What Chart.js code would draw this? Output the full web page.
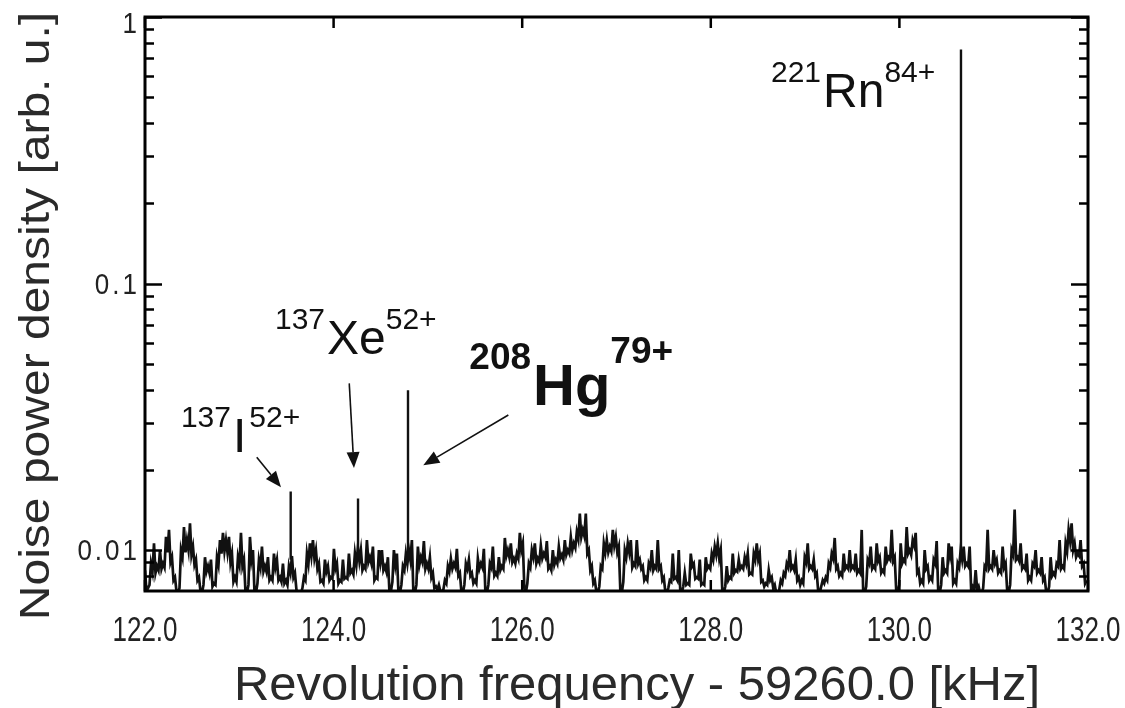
<!DOCTYPE html>
<html>
<head>
<meta charset="utf-8">
<script src="https://cdn.jsdelivr.net/npm/chart.js@4.4.1/dist/chart.umd.min.js"></script>
<style>
  html, body { margin: 0; padding: 0; background: #fff; }
  canvas { display: block; }
</style>
</head>
<body>
<canvas id="spectrum" width="1125" height="708"></canvas>
<script>
// Axis ticks
const xTickValues = [122, 124, 126, 128, 130, 132];
const yTickValues = [0.01, 0.1, 1];
const yMinorTickValues = [0.008, 0.009, 0.02, 0.03, 0.04, 0.05, 0.06, 0.07, 0.08, 0.09,
                          0.2, 0.3, 0.4, 0.5, 0.6, 0.7, 0.8, 0.9];

// Noise floor of the Schottky spectrum. Bins are 0.0159 kHz apart starting at 122.0 kHz;
// even bins hold the crests of the trace, odd bins the troughs between them.
const binStart = 122.0;
const binStep = 0.0159;
const noiseCrest = [
  0.0084, 0.0072, 0.0089, 0.0106, 0.0087, 0.0100, 0.0089, 0.0112, 0.0119, 0.0094,
  0.0079, 0.0069, 0.0100, 0.0122, 0.0109, 0.0126, 0.0103, 0.0092, 0.0079, 0.0069,
  0.0094, 0.0087, 0.0092, 0.0075, 0.0094, 0.0109, 0.0116, 0.0109, 0.0112, 0.0097,
  0.0079, 0.0094, 0.0116, 0.0092, 0.0069, 0.0112, 0.0100, 0.0069, 0.0092, 0.0103,
  0.0087, 0.0094, 0.0079, 0.0097, 0.0092, 0.0079, 0.0089, 0.0077, 0.0087, 0.0095,
  0.0082, 0.0069, 0.0069, 0.0079, 0.0097, 0.0106, 0.0109, 0.0100, 0.0089, 0.0077,
  0.0092, 0.0087, 0.0079, 0.0101, 0.0089, 0.0077, 0.0092, 0.0079, 0.0097, 0.0084,
  0.0097, 0.0102, 0.0100, 0.0087, 0.0109, 0.0094, 0.0103, 0.0079, 0.0100, 0.0100,
  0.0087, 0.0094, 0.0070, 0.0100, 0.0097, 0.0069, 0.0087, 0.0097, 0.0100, 0.0109,
  0.0069, 0.0103, 0.0094, 0.0108, 0.0089, 0.0094, 0.0082, 0.0073, 0.0074, 0.0070,
  0.0077, 0.0087, 0.0093, 0.0089, 0.0101, 0.0082, 0.0069, 0.0089, 0.0092, 0.0082,
  0.0077, 0.0093, 0.0089, 0.0101, 0.0069, 0.0089, 0.0103, 0.0082, 0.0094, 0.0087,
  0.0111, 0.0100, 0.0106, 0.0093, 0.0097, 0.0116, 0.0106, 0.0069, 0.0089, 0.0100,
  0.0106, 0.0093, 0.0104, 0.0097, 0.0108, 0.0087, 0.0100, 0.0092, 0.0103, 0.0096,
  0.0109, 0.0100, 0.0112, 0.0106, 0.0117, 0.0137, 0.0119, 0.0137, 0.0100, 0.0087,
  0.0077, 0.0069, 0.0087, 0.0106, 0.0109, 0.0103, 0.0119, 0.0112, 0.0103, 0.0069,
  0.0100, 0.0106, 0.0109, 0.0089, 0.0109, 0.0092, 0.0087, 0.0079, 0.0089, 0.0100,
  0.0087, 0.0109, 0.0087, 0.0079, 0.0069, 0.0077, 0.0097, 0.0079, 0.0100, 0.0069,
  0.0082, 0.0075, 0.0097, 0.0089, 0.0079, 0.0092, 0.0075, 0.0094, 0.0087, 0.0097,
  0.0103, 0.0106, 0.0100, 0.0069, 0.0087, 0.0079, 0.0097, 0.0084, 0.0092, 0.0087,
  0.0094, 0.0097, 0.0082, 0.0097, 0.0106, 0.0097, 0.0077, 0.0075, 0.0084, 0.0079,
  0.0074, 0.0069, 0.0077, 0.0082, 0.0089, 0.0100, 0.0087, 0.0092, 0.0079, 0.0077,
  0.0094, 0.0106, 0.0087, 0.0092, 0.0082, 0.0069, 0.0077, 0.0079, 0.0089, 0.0097,
  0.0111, 0.0087, 0.0082, 0.0097, 0.0087, 0.0100, 0.0087, 0.0097, 0.0084, 0.0119,
  0.0069, 0.0092, 0.0103, 0.0087, 0.0106, 0.0094, 0.0084, 0.0103, 0.0094, 0.0119,
  0.0094, 0.0069, 0.0106, 0.0092, 0.0122, 0.0100, 0.0109, 0.0116, 0.0084, 0.0077,
  0.0100, 0.0087, 0.0079, 0.0092, 0.0108, 0.0069, 0.0094, 0.0084, 0.0106, 0.0103,
  0.0077, 0.0089, 0.0100, 0.0103, 0.0089, 0.0103, 0.0073, 0.0084, 0.0073, 0.0069,
  0.0087, 0.0119, 0.0087, 0.0100, 0.0092, 0.0084, 0.0103, 0.0089, 0.0069, 0.0100,
  0.0142, 0.0094, 0.0106, 0.0087, 0.0097, 0.0079, 0.0089, 0.0100, 0.0084, 0.0094,
  0.0079, 0.0069, 0.0094, 0.0082, 0.0089, 0.0109, 0.0087, 0.0106, 0.0119, 0.0126,
  0.0106, 0.0097, 0.0109, 0.0089, 0.0077
];
const noiseTrough = [
  0.0070, 0.0074, 0.0083, 0.0082, 0.0084, 0.0085, 0.0086, 0.0098, 0.0090, 0.0077,
  0.0070, 0.0072, 0.0094, 0.0098, 0.0100, 0.0096, 0.0088, 0.0077, 0.0070, 0.0074,
  0.0083, 0.0082, 0.0073, 0.0074, 0.0088, 0.0097, 0.0099, 0.0098, 0.0090, 0.0076,
  0.0076, 0.0088, 0.0087, 0.0070, 0.0074, 0.0092, 0.0070, 0.0075, 0.0086, 0.0083,
  0.0083, 0.0077, 0.0077, 0.0086, 0.0077, 0.0076, 0.0075, 0.0074, 0.0082, 0.0079,
  0.0071, 0.0069, 0.0072, 0.0077, 0.0089, 0.0095, 0.0093, 0.0085, 0.0076, 0.0075,
  0.0083, 0.0077, 0.0078, 0.0085, 0.0075, 0.0076, 0.0078, 0.0078, 0.0082, 0.0081,
  0.0088, 0.0091, 0.0084, 0.0085, 0.0090, 0.0089, 0.0077, 0.0078, 0.0090, 0.0084,
  0.0083, 0.0070, 0.0076, 0.0088, 0.0070, 0.0074, 0.0084, 0.0089, 0.0092, 0.0069,
  0.0074, 0.0088, 0.0090, 0.0085, 0.0085, 0.0079, 0.0072, 0.0071, 0.0070, 0.0071,
  0.0075, 0.0083, 0.0085, 0.0086, 0.0080, 0.0070, 0.0074, 0.0085, 0.0080, 0.0075,
  0.0075, 0.0085, 0.0086, 0.0070, 0.0074, 0.0086, 0.0080, 0.0080, 0.0084, 0.0085,
  0.0095, 0.0094, 0.0090, 0.0089, 0.0093, 0.0100, 0.0072, 0.0075, 0.0086, 0.0094,
  0.0089, 0.0090, 0.0093, 0.0094, 0.0085, 0.0084, 0.0088, 0.0089, 0.0093, 0.0092,
  0.0096, 0.0097, 0.0100, 0.0102, 0.0110, 0.0112, 0.0113, 0.0097, 0.0084, 0.0075,
  0.0070, 0.0073, 0.0085, 0.0098, 0.0098, 0.0099, 0.0104, 0.0098, 0.0071, 0.0076,
  0.0094, 0.0098, 0.0086, 0.0087, 0.0089, 0.0085, 0.0077, 0.0077, 0.0086, 0.0084,
  0.0085, 0.0085, 0.0077, 0.0070, 0.0072, 0.0076, 0.0078, 0.0077, 0.0070, 0.0073,
  0.0074, 0.0074, 0.0087, 0.0078, 0.0078, 0.0074, 0.0074, 0.0085, 0.0085, 0.0092,
  0.0096, 0.0093, 0.0071, 0.0073, 0.0077, 0.0078, 0.0082, 0.0083, 0.0085, 0.0085,
  0.0089, 0.0081, 0.0081, 0.0092, 0.0092, 0.0076, 0.0073, 0.0074, 0.0077, 0.0072,
  0.0069, 0.0071, 0.0075, 0.0080, 0.0086, 0.0085, 0.0084, 0.0077, 0.0074, 0.0075,
  0.0090, 0.0085, 0.0085, 0.0080, 0.0070, 0.0073, 0.0075, 0.0077, 0.0086, 0.0093,
  0.0085, 0.0080, 0.0080, 0.0085, 0.0085, 0.0085, 0.0085, 0.0082, 0.0082, 0.0070,
  0.0073, 0.0089, 0.0085, 0.0085, 0.0091, 0.0082, 0.0082, 0.0091, 0.0092, 0.0091,
  0.0071, 0.0074, 0.0089, 0.0090, 0.0097, 0.0096, 0.0104, 0.0082, 0.0075, 0.0075,
  0.0085, 0.0077, 0.0077, 0.0089, 0.0071, 0.0074, 0.0082, 0.0082, 0.0095, 0.0075,
  0.0075, 0.0086, 0.0092, 0.0087, 0.0087, 0.0071, 0.0071, 0.0071, 0.0069, 0.0072,
  0.0085, 0.0085, 0.0085, 0.0089, 0.0082, 0.0082, 0.0086, 0.0071, 0.0074, 0.0096,
  0.0092, 0.0091, 0.0085, 0.0085, 0.0077, 0.0077, 0.0087, 0.0082, 0.0082, 0.0077,
  0.0070, 0.0073, 0.0080, 0.0080, 0.0087, 0.0085, 0.0085, 0.0099, 0.0108, 0.0100,
  0.0094, 0.0095, 0.0087, 0.0075
];

// Ion peaks: revolution frequency (kHz, offset removed) and peak power
const peakIons = ['137I52+', '137Xe52+', '208Hg79+', '221Rn84+'];
const peakFreq = [123.545, 124.259, 124.789, 130.653];
const peakTop  = [0.0166, 0.0156, 0.0398, 0.756];
const peakFoot = [0.0092, 0.0095, 0.0090, 0.0092];

// Isotope labels, anchored at the start of the element symbol (kHz, arb. u.)
const labelPre  = ['221', '137', '208', '137'];
const labelSym  = ['Rn', 'Xe', 'Hg', 'I'];
const labelPost = ['84+', '52+', '79+', '52+'];
const labelFreq = [129.19, 123.93, 126.115, 122.933];
const labelPow  = [0.459, 0.0544, 0.0350, 0.0233];

// Arrows from the labels to the peaks (tail / head in kHz, arb. u.)
const arrowFromFreq = [123.185, 124.166, 125.853];
const arrowFromPow  = [0.0223, 0.0422, 0.0321];
const arrowToFreq   = [123.442, 124.216, 124.951];
const arrowToPow    = [0.0172, 0.0203, 0.0208];

// ---- datasets built from the arrays above ----
const noiseData = [];
noiseCrest.forEach((v, i) => {
  noiseData.push({ x: binStart + 2 * i * binStep, y: v });
  if (i < noiseTrough.length) {
    noiseData.push({ x: binStart + (2 * i + 1) * binStep, y: noiseTrough[i] });
  }
});
const peakData = [];
peakFreq.forEach((f, i) => {
  peakData.push({ x: f, y: peakFoot[i] }, { x: f, y: peakTop[i] }, { x: f, y: null });
});

const FONT = '"Liberation Sans", Arial, Helvetica, sans-serif';

function drawText(ctx, text, x, y, o) {
  ctx.save();
  ctx.translate(x, y);
  if (o.rotate) ctx.rotate(o.rotate);
  ctx.scale(o.sx || 1, o.sy || 1);
  ctx.font = (o.bold ? 'bold ' : '') + o.size + 'px ' + FONT;
  ctx.fillStyle = o.color || '#111';
  ctx.textAlign = o.align || 'left';
  ctx.textBaseline = o.baseline || 'alphabetic';
  ctx.letterSpacing = (o.spacing || 0) + 'px';
  ctx.fillText(text, 0, 0);
  ctx.restore();
}

function textWidth(ctx, text, size, bold) {
  ctx.save();
  ctx.font = (bold ? 'bold ' : '') + size + 'px ' + FONT;
  const w = ctx.measureText(text).width;
  ctx.restore();
  return w;
}

const frameAndLabels = {
  id: 'frameAndLabels',
  afterDatasetsDraw(chart) {
    const { ctx, chartArea: a, scales: { x, y } } = chart;
    ctx.save();

    // ticks (inward, on all four sides)
    ctx.strokeStyle = '#000';
    ctx.lineCap = 'butt';
    ctx.lineWidth = 2.5;
    const yTick = (v, len) => {
      const py = Math.round(y.getPixelForValue(v)) + 0.5;
      ctx.beginPath();
      ctx.moveTo(a.left, py); ctx.lineTo(a.left + len, py);
      ctx.moveTo(a.right, py); ctx.lineTo(a.right - len, py);
      ctx.stroke();
    };
    yMinorTickValues.forEach(v => yTick(v, 9));
    yTickValues.forEach(v => yTick(v, 17));
    xTickValues.forEach(v => {
      const px = x.getPixelForValue(v);
      ctx.beginPath();
      ctx.moveTo(px, a.top); ctx.lineTo(px, a.top + 11);
      ctx.moveTo(px, a.bottom); ctx.lineTo(px, a.bottom - 11);
      ctx.stroke();
    });

    // frame
    ctx.lineWidth = 3;
    ctx.strokeRect(a.left, a.top, a.right - a.left, a.bottom - a.top);

    // tick labels
    xTickValues.forEach(v => {
      drawText(ctx, v.toFixed(1), x.getPixelForValue(v), 641,
        { size: 26, sy: 1.35, align: 'center', color: '#222' });
    });
    yTickValues.forEach(v => {
      const py = Math.max(y.getPixelForValue(v), a.top + 6);
      drawText(ctx, String(v), 140, py + 10,
        { size: 26, sy: 1.15, align: 'right', spacing: 3, color: '#222' });
    });

    // axis titles
    drawText(ctx, 'Revolution frequency - 59260.0 [kHz]', 637, 700,
      { size: 49, align: 'center', color: '#2a2a2a' });
    drawText(ctx, 'Noise power density [arb. u.]', 49, 316,
      { size: 48, sy: 0.9, rotate: -Math.PI / 2, align: 'center', color: '#2a2a2a' });

    // isotope labels
    labelSym.forEach((sym, i) => {
      const bold = sym === 'Hg';
      const big = bold ? 58 : 48;
      const small = bold ? 37 : 30;
      const rise = bold ? 36 : 25;
      const px = x.getPixelForValue(labelFreq[i]);
      const py = y.getPixelForValue(labelPow[i]);
      drawText(ctx, labelPre[i], px - 2, py - rise, { size: small, bold, align: 'right' });
      drawText(ctx, sym, px, py, { size: big, bold });
      const w = textWidth(ctx, sym, big, bold);
      drawText(ctx, labelPost[i], px + w + (sym === 'I' ? 3 : 0), py - rise - (bold ? 6 : 0),
        { size: small, bold });
    });

    // arrows
    ctx.strokeStyle = '#111';
    ctx.fillStyle = '#111';
    ctx.lineWidth = 1.6;
    arrowFromFreq.forEach((f, i) => {
      const x0 = x.getPixelForValue(f), y0 = y.getPixelForValue(arrowFromPow[i]);
      const x1 = x.getPixelForValue(arrowToFreq[i]), y1 = y.getPixelForValue(arrowToPow[i]);
      const ang = Math.atan2(y1 - y0, x1 - x0);
      const hl = 16, hw = 6.5;
      const bx = x1 - hl * Math.cos(ang), by = y1 - hl * Math.sin(ang);
      ctx.beginPath();
      ctx.moveTo(x0, y0); ctx.lineTo(bx, by);
      ctx.stroke();
      ctx.beginPath();
      ctx.moveTo(x1, y1);
      ctx.lineTo(bx + hw * Math.sin(ang), by - hw * Math.cos(ang));
      ctx.lineTo(bx - hw * Math.sin(ang), by + hw * Math.cos(ang));
      ctx.closePath();
      ctx.fill();
    });

    ctx.restore();
  }
};

new Chart(document.getElementById('spectrum'), {
  type: 'line',
  data: {
    datasets: [
      {
        label: 'noise',
        data: noiseData,
        borderColor: '#111',
        borderWidth: 2.7,
        pointRadius: 0,
        tension: 0
      },
      {
        label: 'peaks',
        data: peakData,
        borderColor: '#111',
        borderWidth: 2.4,
        pointRadius: 0,
        spanGaps: false,
        tension: 0
      }
    ]
  },
  options: {
    responsive: false,
    animation: false,
    devicePixelRatio: 1,
    layout: { padding: { left: 145, right: 37, top: 17, bottom: 117 } },
    plugins: { legend: { display: false }, tooltip: { enabled: false } },
    scales: {
      x: { type: 'linear', min: 122, max: 132, display: false },
      y: { type: 'logarithmic', min: 0.00702, max: 1, display: false }
    }
  },
  plugins: [frameAndLabels]
});
</script>
</body>
</html>
